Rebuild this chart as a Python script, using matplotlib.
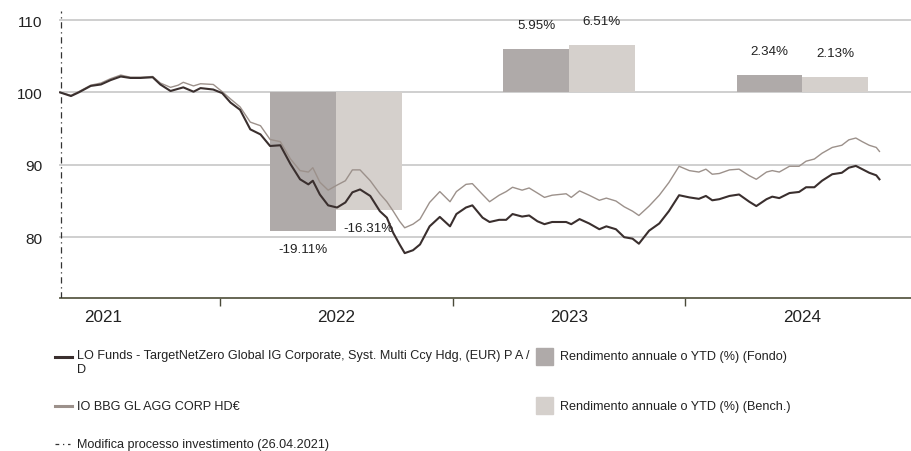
import matplotlib
matplotlib.use("Agg")
import matplotlib.pyplot as plt
import matplotlib.dates as mdates
from matplotlib.lines import Line2D
from matplotlib.patches import Rectangle
from matplotlib import font_manager
import pandas as pd

# ---- data ------------------------------------------------------------
dates = [
    "2021-04-26", "2021-05-13", "2021-05-25", "2021-06-13", "2021-06-29", "2021-07-14",
    "2021-07-30", "2021-08-14", "2021-08-30", "2021-09-18", "2021-09-30", "2021-10-16",
    "2021-10-28", "2021-11-05", "2021-11-21", "2021-12-02", "2021-12-22", "2022-01-05",
    "2022-01-18", "2022-02-02", "2022-02-18", "2022-03-06", "2022-03-21", "2022-04-06",
    "2022-04-22", "2022-05-07", "2022-05-20", "2022-05-27", "2022-06-07", "2022-06-20",
    "2022-07-04", "2022-07-17", "2022-07-28", "2022-08-09", "2022-08-25", "2022-09-09",
    "2022-09-20", "2022-09-30", "2022-10-10", "2022-10-18", "2022-10-31", "2022-11-11",
    "2022-11-26", "2022-12-12", "2022-12-28", "2023-01-07", "2023-01-22", "2023-02-01",
    "2023-02-17", "2023-02-28", "2023-03-15", "2023-03-26", "2023-04-05", "2023-04-20",
    "2023-05-01", "2023-05-14", "2023-05-25", "2023-06-06", "2023-06-28", "2023-07-06",
    "2023-07-19", "2023-08-03", "2023-08-19", "2023-08-30", "2023-09-14", "2023-09-27",
    "2023-10-10", "2023-10-20", "2023-11-05", "2023-11-21", "2023-12-06", "2023-12-22",
    "2024-01-07", "2024-01-22", "2024-02-02", "2024-02-12", "2024-02-23", "2024-03-10",
    "2024-03-25", "2024-04-10", "2024-04-21", "2024-05-07", "2024-05-16", "2024-05-27",
    "2024-06-12", "2024-06-27", "2024-07-08", "2024-07-21", "2024-08-02", "2024-08-18",
    "2024-09-02", "2024-09-13", "2024-09-24", "2024-10-04", "2024-10-15", "2024-10-26",
    "2024-10-31",
]
fund = [
    100.0, 99.5, 100.0, 100.9, 101.1, 101.7, 102.2, 102.0, 102.0, 102.1, 101.1, 100.2,
    100.5, 100.7, 100.1, 100.6, 100.4, 99.9, 98.6, 97.6, 94.9, 94.2, 92.6, 92.7,
    90.1, 88.0, 87.3, 87.8, 85.9, 84.4, 84.1, 84.8, 86.2, 86.6, 85.7, 83.6,
    82.7, 80.6, 79.0, 77.8, 78.2, 79.0, 81.5, 82.8, 81.5, 83.2, 84.1, 84.4,
    82.7, 82.1, 82.4, 82.4, 83.2, 82.85, 83.0, 82.2, 81.8, 82.1, 82.1, 81.8,
    82.5, 81.9, 81.1, 81.5, 81.1, 80.0, 79.8, 79.1, 80.9, 81.9, 83.6, 85.8,
    85.5, 85.3, 85.7, 85.1, 85.25, 85.7, 85.9, 84.9, 84.3, 85.25, 85.6, 85.4,
    86.1, 86.25, 86.9, 86.9, 87.8, 88.7, 88.9, 89.6, 89.85, 89.4, 88.9, 88.55,
    88.0,
]
bench = [
    100.0, 99.6, 100.1, 101.0, 101.3, 101.9, 102.4, 102.1, 102.1, 102.2, 101.3, 100.7,
    101.0, 101.4, 100.9, 101.2, 101.1, 100.1, 99.1, 98.0, 95.9, 95.4, 93.5, 93.2,
    90.8, 89.2, 89.0, 89.6, 87.6, 86.5, 87.2, 87.8, 89.3, 89.3, 87.8, 86.0,
    84.9, 83.6, 82.2, 81.3, 81.8, 82.5, 84.8, 86.3, 84.9, 86.3, 87.3, 87.4,
    85.9, 84.9, 85.8, 86.3, 86.9, 86.5, 86.8, 86.1, 85.5, 85.8, 86.0, 85.5,
    86.4, 85.8, 85.1, 85.4, 85.0, 84.2, 83.6, 83.0, 84.3, 85.8, 87.55, 89.8,
    89.2, 89.0, 89.4, 88.7, 88.8, 89.3, 89.4, 88.5, 88.0, 89.0, 89.2, 89.0,
    89.8, 89.8, 90.5, 90.8, 91.6, 92.4, 92.7, 93.45, 93.7, 93.2, 92.7, 92.4,
    91.85,
]

bar_years = [2022, 2023, 2024]
fund_ret = [-19.11, 5.95, 2.34]
bench_ret = [-16.31, 6.51, 2.13]

fund_name = "LO Funds - TargetNetZero Global IG Corporate, Syst. Multi Ccy Hdg, (EUR) P A /\nD"
bench_name = "IO BBG GL AGG CORP HD\u20ac"
bar_fund_name = "Rendimento annuale o YTD (%) (Fondo)"
bar_bench_name = "Rendimento annuale o YTD (%) (Bench.)"
event_name = "Modifica processo investimento (26.04.2021)"
event_date = "2021-04-26"

# ---- style -----------------------------------------------------------
names = {f.name for f in font_manager.fontManager.ttflist}
font = "DejaVu Sans"
for cand in ["Liberation Sans", "Arial"]:
    if cand in names:
        font = cand
        break
plt.rcParams["font.family"] = [font, "DejaVu Sans"]

c_fund = "#3a2f2e"
c_bench = "#9c918b"
c_bar_fund = "#afaaa9"
c_bar_bench = "#d5d0cc"
c_grid = "#cccccc"
c_text = "#222222"

W, H = 912, 452
fig = plt.figure(figsize=(W / 100, H / 100), dpi=100)
ax = fig.add_axes([59.5 / W, 1 - 299 / H, 1 - 59.5 / W, (299 - 12) / H])

x = mdates.date2num(pd.to_datetime(dates))

# annual return bars, drawn from the 100 baseline
bar_w = 103
for yr, fr, br in zip(bar_years, fund_ret, bench_ret):
    mid = (mdates.date2num(pd.Timestamp(f"{yr}-01-01")) +
           mdates.date2num(pd.Timestamp(f"{yr + 1}-01-01"))) / 2
    ax.bar(mid, fr, width=-bar_w, bottom=100, align="edge", color=c_bar_fund, zorder=2)
    ax.bar(mid, br, width=bar_w, bottom=100, align="edge", color=c_bar_bench, zorder=2)
    for cx, v in [(mid - bar_w / 2, fr), (mid + bar_w / 2, br)]:
        off = 13 if v > 0 else -8.6
        ax.annotate(f"{v:.2f}%", (cx, 100 + v), xytext=(0, off),
                    textcoords="offset points", ha="center",
                    va="bottom" if v > 0 else "top", fontsize=9.6, color=c_text)

ax.plot(x, bench, color=c_bench, lw=1.0, zorder=3)
ax.plot(x, fund, color=c_fund, lw=1.5, zorder=4)

ev = mdates.date2num(pd.Timestamp(event_date))
ax.axvline(ev + 1, color="#333333", lw=0.9, ls=(0, (5, 3, 1, 3)), zorder=5)

ax.set_xlim(mdates.date2num(pd.Timestamp("2021-04-25")),
            mdates.date2num(pd.Timestamp("2024-12-21")))
ax.set_ylim(71.6, 111.25)
ax.set_yticks([80, 90, 100, 110])
ax.yaxis.grid(True, color=c_grid, lw=1.3, zorder=0)
ax.set_axisbelow(True)

# year boundaries as minor ticks, labels at mid-year
years = [2021, 2022, 2023, 2024]
mids = [(mdates.date2num(pd.Timestamp(f"{y}-01-01")) +
         mdates.date2num(pd.Timestamp(f"{y + 1}-01-01"))) / 2 for y in years]
ax.set_xticks(mids)
ax.set_xticklabels([str(y) for y in years])
ax.set_xticks([mdates.date2num(pd.Timestamp(f"{y}-01-01")) for y in [2022, 2023, 2024]],
              minor=True)
ax.tick_params(axis="x", which="major", length=0, pad=8.0, labelsize=12.3, labelcolor=c_text)
ax.tick_params(axis="x", which="minor", length=5.5, width=1, color="#4a4a3a", direction="out")
ax.tick_params(axis="y", length=0, pad=12.5, labelsize=11.1, labelcolor=c_text)
for lab in ax.get_yticklabels():
    lab.set_y(lab.get_position()[1])

for s in ["top", "right", "left"]:
    ax.spines[s].set_visible(False)
ax.spines["bottom"].set_color("#5a5a46")
ax.spines["bottom"].set_linewidth(1.3)


# ---- legend, drawn by hand below the axes -----------------------------
def fx(px):
    return px / W


def fy(py):
    return 1 - py / H


fs = 9.1
fig.add_artist(Line2D([fx(55), fx(72)], [fy(358), fy(358)], color=c_fund, lw=2.2))
fig.text(fx(77), fy(350), fund_name, fontsize=fs, va="top", ha="left",
         color=c_text, linespacing=1.2)
fig.add_artist(Line2D([fx(55), fx(72)], [fy(407), fy(407)], color=c_bench, lw=2.2))
fig.text(fx(77), fy(407), bench_name, fontsize=fs, va="center", ha="left", color=c_text)
fig.add_artist(Line2D([fx(55), fx(70)], [fy(445), fy(445)], color="#333333", lw=0.9,
                      ls=(0, (3, 3, 1, 3))))
fig.text(fx(77), fy(445), event_name, fontsize=fs, va="center", ha="left", color=c_text)

fig.add_artist(Rectangle((fx(536), fy(366)), fx(17), 17 / H, color=c_bar_fund))
fig.text(fx(560), fy(357), bar_fund_name, fontsize=fs, va="center", ha="left", color=c_text)
fig.add_artist(Rectangle((fx(536), fy(415)), fx(17), 17 / H, color=c_bar_bench))
fig.text(fx(560), fy(407), bar_bench_name, fontsize=fs, va="center", ha="left", color=c_text)

fig.savefig("out.png", dpi=100)
